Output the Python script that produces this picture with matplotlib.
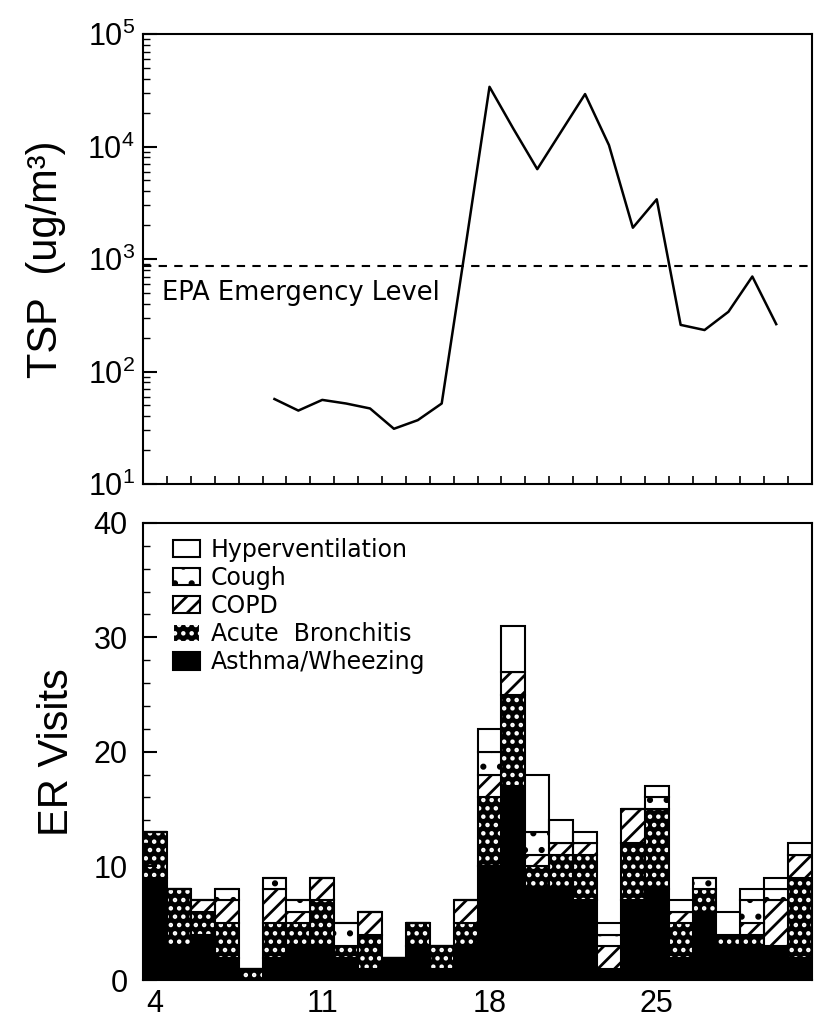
import numpy as np
import matplotlib
matplotlib.use("Agg")
import matplotlib.pyplot as plt
from matplotlib.patches import Patch
from matplotlib.ticker import LogLocator, MultipleLocator, NullFormatter

plt.rcParams['font.family'] = ['Liberation Sans', 'DejaVu Sans']
plt.rcParams['hatch.linewidth'] = 2.0

# daily TSP concentration (ug/m3), days 9..30
tsp_days = list(range(9, 31))
tsp = [57, 45, 56, 52, 47, 31, 37, 52, 1300, 34000, 14400, 6300, 13600,
       29300, 10300, 1900, 3400, 260, 234, 340, 700, 264]
epa_level = 875

# ER visits per day, days 4..31
days = list(range(4, 32))
asthma = [9, 3, 4, 2, 0, 2, 3, 3, 2, 1, 2, 3, 1, 3, 10, 17, 8, 8, 7, 1, 7, 8, 2, 6, 3, 3, 3, 2]
acute = [4, 5, 2, 3, 1, 3, 2, 4, 1, 3, 0, 2, 2, 2, 6, 8, 2, 3, 4, 0, 5, 7, 3, 2, 1, 1, 0, 7]
copd = [0, 0, 1, 2, 0, 3, 1, 2, 0, 2, 0, 0, 0, 2, 2, 2, 1, 1, 1, 2, 3, 0, 1, 0, 0, 1, 4, 2]
cough = [0, 0, 0, 1, 0, 1, 1, 0, 2, 0, 0, 0, 0, 0, 2, 0, 2, 0, 0, 1, 0, 1, 0, 1, 0, 2, 1, 0]
hyper = [0, 0, 0, 0, 0, 0, 0, 0, 0, 0, 0, 0, 0, 0, 2, 4, 5, 2, 1, 1, 0, 1, 1, 0, 2, 1, 1, 1]
labels = ["Asthma/Wheezing", "Acute  Bronchitis", "COPD", "Cough", "Hyperventilation"]
day_ticks = [4, 11, 18, 25]

# face colour, hatch colour, hatch
styles = [("black", "black", None),
          ("black", "white", ".."),
          ("white", "black", "//"),
          ("white", "black", "."),
          ("white", "black", None)]

label_font = ['Liberation Sans Narrow', 'Liberation Sans']

fig = plt.figure(figsize=(8.23, 10.21), dpi=100)
ax1 = fig.add_axes([0.1738, 0.5259, 0.8129, 0.4407])
ax2 = fig.add_axes([0.1738, 0.0397, 0.8129, 0.4481])

# --- top: TSP
ax1.plot(tsp_days, tsp, color="black", lw=1.8)
ax1.axhline(epa_level, color="black", lw=1.5, linestyle=(0, (4, 3.5)))
ax1.text(4.3, 500, "EPA Emergency Level", fontsize=18.5, va="center",
         family="DejaVu Sans")
ax1.set_yscale("log")
ax1.set_ylim(10, 1e5)
ax1.set_xlim(3.5, 31.5)
ax1.yaxis.set_major_locator(LogLocator(base=10, numticks=10))
ax1.yaxis.set_minor_locator(LogLocator(base=10, subs=np.arange(2, 10), numticks=10))
ax1.yaxis.set_minor_formatter(NullFormatter())
ax1.set_xticks(np.arange(4.5, 31, 1))
ax1.tick_params(axis="x", direction="in", length=6, width=1.2, labelbottom=False)
ax1.tick_params(axis="y", which="major", direction="in", length=10, width=1.5,
                labelsize=22, pad=6)
ax1.tick_params(axis="y", which="minor", direction="in", length=5, width=1.0)
ax1.set_ylabel("TSP  (ug/m³)", fontsize=30, family=label_font, va="center")
ax1.yaxis.set_label_coords(-0.145, 0.5)

# --- bottom: stacked ER visits
bottom = np.zeros(len(days))
handles = []
for vals, (face, hc, hatch), lab in zip([asthma, acute, copd, cough, hyper], styles, labels):
    vals = np.array(vals, dtype=float)
    ax2.bar(days, vals, 1.0, bottom=bottom, color=face, edgecolor=hc,
            hatch=hatch, linewidth=0)
    ax2.bar(days, vals, 1.0, bottom=bottom, fill=False, edgecolor="black",
            linewidth=1.5)
    bottom += vals
    handles.append(Patch(facecolor=face, edgecolor=hc if hatch else "black",
                         hatch=hatch, linewidth=1.5, label=lab))

ax2.set_xlim(3.5, 31.5)
ax2.set_ylim(0, 40)
ax2.set_xticks(day_ticks)
ax2.set_xticklabels([str(d) for d in day_ticks])
ax2.xaxis.set_minor_locator(MultipleLocator(1))
ax2.yaxis.set_major_locator(MultipleLocator(10))
ax2.yaxis.set_minor_locator(MultipleLocator(2))
ax2.tick_params(axis="x", which="both", direction="in", length=6, labelsize=22, pad=6)
ax2.tick_params(axis="y", which="major", direction="in", length=10, width=1.5,
                labelsize=22, pad=11)
ax2.tick_params(axis="y", which="minor", direction="in", length=5, width=1.0)
ax2.set_ylabel("ER Visits", fontsize=30, family=label_font, va="center")
ax2.yaxis.set_label_coords(-0.128, 0.5)

ax2.legend(handles=handles[::-1], loc="upper left", bbox_to_anchor=(0.045, 0.967),
           frameon=False, prop={"family": "DejaVu Sans", "size": 17},
           handlelength=1.15, handleheight=0.75, handletextpad=0.45,
           labelspacing=0.17, borderpad=0, borderaxespad=0)

for ax in (ax1, ax2):
    for s in ax.spines.values():
        s.set_linewidth(1.5)

fig.savefig("out.png", dpi=100)
